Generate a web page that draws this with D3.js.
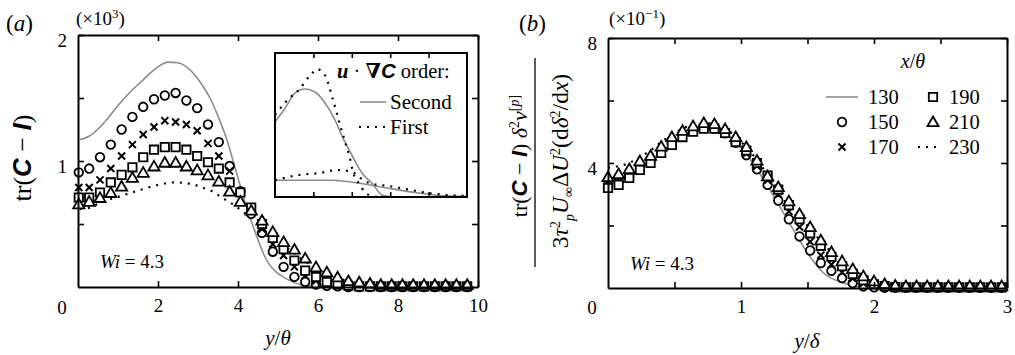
<!DOCTYPE html>
<html>
<head>
<meta charset="utf-8">
<script src="https://cdn.jsdelivr.net/npm/d3@7"></script>
<style>
  body { margin: 0; background: #fff; }
  svg { display: block; }
  text { font-family: "Liberation Serif", "DejaVu Serif", serif; fill: #000; }
</style>
</head>
<body>
<div id="chart"></div>
<script>
// ---------- panel (a): tr(C - I) vs y/theta, values in units of 10^3 ----------
const aX = [0.02, 0.28, 0.55, 0.82, 1.09, 1.36, 1.63, 1.90, 2.17, 2.44, 2.71, 2.98, 3.25, 3.52, 3.79,
            4.06, 4.33, 4.60, 4.87, 5.14, 5.41, 5.68, 5.95, 6.22, 6.49, 6.76, 7.03, 7.30, 7.57, 7.84,
            8.11, 8.38, 8.65, 8.92, 9.19, 9.46, 9.73];
const a150 = [0.91, 0.94, 1.03, 1.13, 1.25, 1.35, 1.43, 1.49, 1.52, 1.54, 1.48, 1.42, 1.29, 1.15, 0.96,
              0.76, 0.58, 0.43, 0.28, 0.16, 0.08, 0.04, 0.02, 0.01, 0.005, 0, 0, 0, 0, 0,
              0, 0, 0, 0, 0, 0, 0];
const a170 = [0.79, 0.79, 0.85, 0.94, 1.04, 1.13, 1.21, 1.27, 1.32, 1.31, 1.29, 1.24, 1.14, 1.04, 0.92,
              0.76, 0.60, 0.46, 0.34, 0.25, 0.16, 0.09, 0.05, 0.03, 0.01, 0.005, 0, 0, 0, 0,
              0, 0, 0, 0, 0, 0, 0];
const a190 = [0.71, 0.71, 0.75, 0.83, 0.89, 0.95, 1.03, 1.09, 1.11, 1.11, 1.09, 1.04, 0.99, 0.94, 0.83,
              0.75, 0.63, 0.50, 0.39, 0.30, 0.21, 0.13, 0.08, 0.04, 0.02, 0.01, 0.005, 0.005, 0.005, 0.005,
              0.005, 0.005, 0.005, 0.005, 0.005, 0.005, 0.005];
const a210 = [0.65, 0.67, 0.70, 0.74, 0.79, 0.86, 0.90, 0.95, 0.98, 0.98, 0.95, 0.92, 0.88, 0.83, 0.75,
              0.67, 0.60, 0.52, 0.43, 0.35, 0.29, 0.22, 0.15, 0.11, 0.07, 0.04, 0.03, 0.02, 0.01, 0.01,
              0.01, 0.01, 0.01, 0.01, 0.01, 0.01, 0.01];
const a130X = [0.05, 0.3, 0.55, 0.8, 1.0, 1.25, 1.55, 1.97, 2.25, 2.5, 2.72, 2.95, 3.13, 3.3, 3.47, 3.72,
               3.95, 4.18, 4.47, 4.72, 4.95, 5.13, 5.55, 6.0, 7.0, 9.8];
const a130Y = [1.17, 1.20, 1.27, 1.36, 1.44, 1.53, 1.62, 1.74, 1.785, 1.78, 1.745, 1.67, 1.59, 1.50, 1.38, 1.17,
               0.92, 0.67, 0.40, 0.21, 0.12, 0.08, 0.02, 0.004, 0, 0];
const a230X = [0.05, 0.3, 0.55, 1.05, 1.55, 2.0, 2.4, 2.8, 3.1, 3.35, 3.6, 3.9, 4.2, 4.5, 4.8, 5.1,
               5.4, 5.7, 6.0, 6.3, 6.6, 7.0, 7.5, 8.5, 9.8];
const a230Y = [0.62, 0.63, 0.67, 0.72, 0.77, 0.81, 0.83, 0.82, 0.79, 0.76, 0.71, 0.65, 0.58, 0.50, 0.42, 0.34,
               0.27, 0.20, 0.14, 0.09, 0.06, 0.03, 0.015, 0.01, 0.01];

// inset: second- vs first-order u.gradC (arbitrary units)
const inSecHiX = [0, 0.52, 1.04, 1.56, 2.08, 2.6, 3.13, 3.54, 4.0, 4.53, 5.05, 5.6, 6.25, 10];
const inSecHiY = [1.25, 1.48, 1.73, 1.80, 1.75, 1.57, 1.28, 0.98, 0.70, 0.40, 0.23, 0.03, 0, 0];
const inFirHiX = [0, 0.52, 1.04, 1.3, 1.56, 1.9, 2.19, 2.6, 3.02, 3.39, 3.65, 3.9, 4.06, 4.43, 4.69, 5.0, 5.5, 10];
const inFirHiY = [1.37, 1.57, 1.73, 1.80, 1.92, 2.05, 2.13, 2.03, 1.62, 1.20, 0.92, 0.65, 0.42, 0.20, 0.08, 0.02, 0, 0];
const inSecLoX = [0, 1.5, 3.0, 3.4, 4.58, 5.83, 7.4, 8.85, 10];
const inSecLoY = [0.28, 0.28, 0.28, 0.27, 0.22, 0.15, 0.07, 0.02, 0.01];
const inFirLoX = [0, 1.3, 2.34, 3.23, 4.0, 4.43, 4.95, 6.0, 7.03, 7.9, 9.1, 10];
const inFirLoY = [0.28, 0.37, 0.40, 0.45, 0.42, 0.32, 0.23, 0.18, 0.12, 0.07, 0.03, 0.02];

// ---------- panel (b): scaled tr(C - I) vs y/delta, values in units of 10^-1 ----------
const bX = [0.00, 0.08, 0.16, 0.24, 0.32, 0.40, 0.48, 0.56, 0.64, 0.72, 0.80, 0.88, 0.96, 1.04, 1.12,
            1.20, 1.28, 1.36, 1.44, 1.52, 1.60, 1.68, 1.76, 1.84, 1.92, 2.00, 2.08, 2.16, 2.24, 2.32,
            2.40, 2.48, 2.56, 2.64, 2.72, 2.80, 2.88, 2.96];
const b150 = [3.30, 3.40, 3.60, 3.85, 4.10, 4.40, 4.65, 4.90, 5.05, 5.15, 5.10, 4.95, 4.65, 4.25, 3.80,
              3.30, 2.80, 2.20, 1.65, 1.20, 0.80, 0.55, 0.32, 0.16, 0.05, 0.02, 0.01, 0.01, 0.01, 0.01,
              0.01, 0.01, 0.01, 0.01, 0.01, 0.01, 0.01, 0.01];
const b170 = [3.35, 3.45, 3.65, 3.85, 4.10, 4.40, 4.65, 4.90, 5.05, 5.15, 5.12, 4.97, 4.68, 4.30, 3.90,
              3.45, 3.00, 2.45, 1.95, 1.48, 1.05, 0.75, 0.50, 0.30, 0.15, 0.07, 0.03, 0.02, 0.02, 0.02,
              0.02, 0.02, 0.02, 0.02, 0.02, 0.02, 0.02, 0.02];
const b190 = [3.20, 3.30, 3.52, 3.78, 4.00, 4.32, 4.58, 4.83, 5.00, 5.10, 5.10, 4.96, 4.67, 4.40, 4.00,
              3.60, 3.15, 2.65, 2.20, 1.75, 1.35, 1.00, 0.70, 0.45, 0.25, 0.12, 0.06, 0.03, 0.02, 0.02,
              0.02, 0.02, 0.02, 0.02, 0.02, 0.02, 0.02, 0.02];
const b210 = [3.52, 3.62, 3.78, 4.03, 4.20, 4.50, 4.80, 5.00, 5.15, 5.25, 5.22, 5.06, 4.80, 4.48, 4.05,
              3.55, 3.20, 2.75, 2.34, 1.92, 1.50, 1.12, 0.83, 0.58, 0.35, 0.19, 0.10, 0.05, 0.03, 0.03,
              0.03, 0.03, 0.03, 0.03, 0.03, 0.03, 0.03, 0.03];
const b130X = [0, 0.16, 0.32, 0.48, 0.64, 0.76, 0.88, 1.0, 1.12, 1.24, 1.35, 1.5, 1.62, 1.77, 1.87, 2.0, 3.0];
const b130Y = [3.30, 3.60, 4.10, 4.60, 5.00, 5.10, 4.95, 4.50, 3.80, 2.98, 2.18, 1.12, 0.48, 0.16, 0.04, 0, 0];
const b230X = [0, 0.08, 0.16, 0.24, 0.32, 0.40, 0.48, 0.56, 0.64, 0.72, 0.80, 0.88, 0.96, 1.04, 1.12,
               1.20, 1.28, 1.36, 1.44, 1.52, 1.60, 1.68, 1.76, 1.84, 1.92, 2.0, 2.1, 2.2, 2.4, 3.0];
const b230Y = [3.85, 3.90, 4.00, 4.20, 4.40, 4.67, 4.90, 5.10, 5.22, 5.28, 5.25, 5.10, 4.85, 4.50, 4.10,
               3.62, 3.20, 2.75, 2.30, 1.90, 1.50, 1.15, 0.85, 0.60, 0.40, 0.25, 0.12, 0.07, 0.04, 0.03];

const legendLabels = ['130', '150', '170', '190', '210', '230'];

const W = 1015, H = 355;
const GREY = '#8c8c8c';
const svg = d3.select('#chart').append('svg').attr('width', W).attr('height', H);

function zip(xs, ys) { return xs.map((v, i) => [v, ys[i]]); }

function drawLine(g, pts, x, y, dotted) {
    const line = d3.line().curve(d3.curveMonotoneX).x((d) => x(d[0])).y((d) => y(d[1]));
    const p = g.append('path').datum(pts).attr('d', line).attr('fill', 'none');
    if (dotted) {
        p.attr('stroke', '#000').attr('stroke-width', 2.2).attr('stroke-dasharray', '2,6');
    } else {
        p.attr('stroke', GREY).attr('stroke-width', 1.6);
    }
    return p;
}

const sym = {
    circle: d3.symbol().type(d3.symbolCircle).size(58),
    square: d3.symbol().type(d3.symbolSquare).size(70),
    triangle: d3.symbol().type(d3.symbolTriangle).size(54),
    cross: d3.symbol().type(d3.symbolTimes).size(34)
};

function drawMarks(g, xs, ys, type, x, y) {
    g.append('g')
        .selectAll('path')
        .data(zip(xs, ys))
        .join('path')
        .attr('transform', (d) => `translate(${x(d[0])},${y(d[1])})`)
        .attr('d', sym[type])
        .attr('fill', type === 'cross' ? 'none' : '#fff')
        .attr('stroke', '#000')
        .attr('stroke-width', type === 'cross' ? 2 : 1.8);
}

function frame(g, x, y, xt, yt, xFmt, yFmt, lenT) {
    const [x0, x1] = x.range(), [y0, y1] = y.range();
    const style = (s) => {
        s.select('.domain').attr('stroke-width', 2);
        s.selectAll('.tick line').attr('stroke-width', 1.6);
        s.selectAll('.tick text').attr('font-size', 19).attr('font-family', '"Liberation Serif", serif');
    };
    g.append('g').attr('transform', `translate(0,${y0})`)
        .call(d3.axisBottom(x).tickValues(xt).tickSize(-lenT).tickSizeOuter(0).tickPadding(12).tickFormat(xFmt))
        .call(style);
    g.append('g').attr('transform', `translate(0,${y1})`)
        .call(d3.axisTop(x).tickValues(xt).tickSize(-lenT).tickSizeOuter(0).tickFormat(''))
        .call(style);
    g.append('g').attr('transform', `translate(${x0},0)`)
        .call(d3.axisLeft(y).tickValues(yt).tickSize(-lenT).tickSizeOuter(0).tickPadding(11).tickFormat(yFmt))
        .call(style)
        .call((s) => s.selectAll('.tick text').attr('dy', '0.6em'));
    g.append('g').attr('transform', `translate(${x1},0)`)
        .call(d3.axisRight(y).tickValues(yt).tickSize(-lenT).tickSizeOuter(0).tickFormat(''))
        .call(style);
}

function addText(g, x, y, parts, size, anchor) {
    const t = g.append('text').attr('x', x).attr('y', y).attr('font-size', size)
        .attr('text-anchor', anchor || 'start');
    parts.forEach((p) => {
        const s = t.append('tspan').text(p.t);
        if (p.i) s.attr('font-style', 'italic');
        if (p.b) s.attr('font-weight', 'bold');
        if (p.sans) s.attr('font-family', '"Liberation Sans", Arial, sans-serif');
        if (p.fs) s.attr('font-size', p.fs);
        if (p.dy) s.attr('dy', p.dy);
    });
    return t;
}

// ================= panel (a) =================
const xA = d3.scaleLinear().domain([0, 10]).range([78, 478]);
const yA = d3.scaleLinear().domain([0, 2]).range([287, 35]);
const gA = svg.append('g');

drawLine(gA, zip(a130X, a130Y), xA, yA, false);
drawLine(gA, zip(a230X, a230Y), xA, yA, true);
drawMarks(gA, aX, a150, 'circle', xA, yA);
drawMarks(gA, aX, a170, 'cross', xA, yA);
drawMarks(gA, aX, a190, 'square', xA, yA);
drawMarks(gA, aX, a210, 'triangle', xA, yA);

frame(gA, xA, yA, [2, 4, 6, 8, 10], [0.5, 1, 1.5, 2],
    (d) => d, (d) => (Number.isInteger(d) ? d : ''), 6);
gA.append('text').attr('x', 62).attr('y', 314).attr('font-size', 19).attr('text-anchor', 'middle').text('0');

// inset
const xI = d3.scaleLinear().domain([0, 10]).range([275, 467]);
const yI = d3.scaleLinear().domain([0, 2.4]).range([197, 53]);
const gI = svg.append('g');
gI.append('rect').attr('x', 275).attr('y', 53).attr('width', 192).attr('height', 144).attr('fill', '#fff');
drawLine(gI, zip(inSecHiX, inSecHiY), xI, yI, false);
drawLine(gI, zip(inSecLoX, inSecLoY), xI, yI, false);
drawLine(gI, zip(inFirHiX, inFirHiY), xI, yI, true);
drawLine(gI, zip(inFirLoX, inFirLoY), xI, yI, true);
gI.append('g').attr('transform', 'translate(0,53)')
    .call(d3.axisTop(xI).tickValues([2, 4, 6, 8]).tickSize(-5).tickSizeOuter(0).tickFormat(''));
gI.append('g').attr('transform', 'translate(0,197)')
    .call(d3.axisBottom(xI).tickValues([2, 4, 6, 8]).tickSize(-5).tickSizeOuter(0).tickFormat(''));
gI.selectAll('.domain').attr('stroke', 'none');
gI.selectAll('.tick line').attr('stroke-width', 1.6);
gI.append('rect').attr('x', 275).attr('y', 53).attr('width', 192).attr('height', 144)
    .attr('fill', 'none').attr('stroke', '#000').attr('stroke-width', 2);

addText(gI, 337, 78, [
    { t: 'u', i: true, b: true },
    { t: ' · ' },
    { t: '∇', b: true },
    { t: 'C', b: true, i: true, sans: true },
    { t: ' order:' }
], 20.5);
gI.append('line').attr('x1', 360).attr('x2', 386).attr('y1', 102).attr('y2', 102)
    .attr('stroke', GREY).attr('stroke-width', 1.6);
addText(gI, 390, 109, [{ t: 'Second' }], 21);
gI.append('line').attr('x1', 359).attr('x2', 387).attr('y1', 127).attr('y2', 127)
    .attr('stroke', '#000').attr('stroke-width', 2.2).attr('stroke-dasharray', '2,6');
addText(gI, 390, 134, [{ t: 'First' }], 21);

// labels (a)
addText(gA, 6, 31, [{ t: '(' }, { t: 'a', i: true }, { t: ')' }], 23);
addText(gA, 76, 25, [{ t: '(×10' }, { t: '3', fs: 13, dy: -7 }, { t: ')', dy: 7 }], 19);
addText(gA, 100, 268, [{ t: 'Wi', i: true }, { t: ' = 4.3' }], 19);
addText(gA, 278, 345, [{ t: 'y', i: true }, { t: '/' }, { t: 'θ', i: true }], 21, 'middle');
addText(gA, 0, 0, [
    { t: 'tr(' },
    { t: 'C', b: true, i: true, sans: true },
    { t: ' − ' },
    { t: 'I', b: true, i: true, sans: true },
    { t: ')' }
], 26, 'middle').attr('transform', 'translate(31,158) rotate(-90)');

// ================= panel (b) =================
const xB = d3.scaleLinear().domain([0, 3]).range([608, 1007]);
const yB = d3.scaleLinear().domain([0, 8]).range([288, 38]);
const gB = svg.append('g');

drawLine(gB, zip(b130X, b130Y), xB, yB, false);
drawLine(gB, zip(b230X, b230Y), xB, yB, true);
drawMarks(gB, bX, b150, 'circle', xB, yB);
drawMarks(gB, bX, b170, 'cross', xB, yB);
drawMarks(gB, bX, b190, 'square', xB, yB);
drawMarks(gB, bX, b210, 'triangle', xB, yB);

frame(gB, xB, yB, [0.5, 1, 1.5, 2, 2.5, 3], [2, 4, 6, 8],
    (d) => (Number.isInteger(d) ? d : ''), (d) => (d % 4 === 0 ? d : ''), 6);
gB.append('text').attr('x', 592).attr('y', 314).attr('font-size', 19).attr('text-anchor', 'middle').text('0');

addText(gB, 519, 31, [{ t: '(' }, { t: 'b', i: true }, { t: ')' }], 23);
addText(gB, 609, 25, [{ t: '(×10' }, { t: '−1', fs: 13, dy: -7 }, { t: ')', dy: 7 }], 19);
addText(gB, 630, 270, [{ t: 'Wi', i: true }, { t: ' = 4.3' }], 19);
addText(gB, 807, 348, [{ t: 'y', i: true }, { t: '/' }, { t: 'δ', i: true }], 21, 'middle');

// fraction y label
addText(gB, 0, 0, [
    { t: 'tr(' },
    { t: 'C', b: true, i: true, sans: true },
    { t: ' − ' },
    { t: 'I', b: true, i: true, sans: true },
    { t: ') ' },
    { t: 'δ', i: true },
    { t: '2', fs: 14, dy: -8 },
    { t: 'ν', i: true, dy: 8 },
    { t: '[', fs: 14, dy: -8 },
    { t: 'p', i: true, fs: 14 },
    { t: ']', fs: 14 }
], 22, 'middle').attr('transform', 'translate(527,156) rotate(-90)');
gB.append('line').attr('x1', 535).attr('x2', 535).attr('y1', 58).attr('y2', 267)
    .attr('stroke', '#000').attr('stroke-width', 1.3);
addText(gB, 0, 0, [
    { t: '3' },
    { t: 'τ', i: true },
    { t: '2', fs: 14, dy: -8 },
    { t: 'p', i: true, fs: 14, dy: 14 },
    { t: 'U', i: true, dy: -6 },
    { t: '∞', fs: 14, dy: 5 },
    { t: 'Δ', dy: -5 },
    { t: 'U', i: true },
    { t: '2', fs: 14, dy: -8 },
    { t: '(d', dy: 8 },
    { t: 'δ', i: true },
    { t: '2', fs: 14, dy: -8 },
    { t: '/d', dy: 8 },
    { t: 'x', i: true },
    { t: ')' }
], 23.5, 'middle').attr('transform', 'translate(568,161) rotate(-90)');

// legend (b)
const gL = gB.append('g');
addText(gL, 913, 68, [{ t: 'x', i: true }, { t: '/' }, { t: 'θ', i: true }], 20, 'middle');
const rows = [97, 122, 147];
gL.append('line').attr('x1', 826).attr('x2', 858).attr('y1', rows[0]).attr('y2', rows[0])
    .attr('stroke', GREY).attr('stroke-width', 1.6);
drawMarks(gL, [0], [0], 'circle', () => 842, () => rows[1]);
drawMarks(gL, [0], [0], 'cross', () => 842, () => rows[2]);
drawMarks(gL, [0], [0], 'square', () => 933, () => rows[0]);
drawMarks(gL, [0], [0], 'triangle', () => 933, () => rows[1] + 1);
gL.append('line').attr('x1', 918).attr('x2', 942).attr('y1', rows[2]).attr('y2', rows[2])
    .attr('stroke', '#000').attr('stroke-width', 2.2).attr('stroke-dasharray', '2,6');
legendLabels.forEach((lab, i) => {
    const col = i < 3 ? 868 : 949;
    addText(gL, col, rows[i % 3] + 7, [{ t: lab }], 20.5);
});
</script>
</body>
</html>
